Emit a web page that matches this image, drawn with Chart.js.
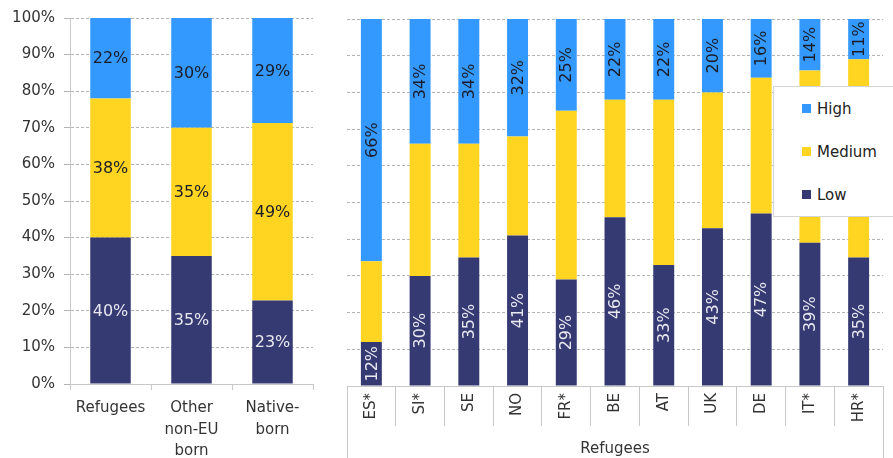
<!DOCTYPE html>
<html>
<head>
<meta charset="utf-8">
<script src="https://cdn.jsdelivr.net/npm/chart.js@4"></script>
<style>
  body { margin: 0; background: #fff; width: 893px; height: 458px; overflow: hidden; position: relative; font-family: "DejaVu Sans", sans-serif; }
  #leftWrap { position: absolute; left: 0; top: 0; width: 330px; height: 458px; }
  #rightWrap { position: absolute; left: 330px; top: 0; width: 563px; height: 458px; }
  #legend { position: absolute; left: 773px; top: 86px; width: 130px; height: 129px; background: #fff; border: 1px solid #d4d4d4; }
  .item { position: absolute; left: 28px; font-size: 15px; color: #222; line-height: 18px; }
  .sw { display: inline-block; width: 9px; height: 9px; margin-right: 6px; vertical-align: 1px; }
</style>
</head>
<body>
<div id="leftWrap"><canvas id="groupChart"></canvas></div>
<div id="rightWrap"><canvas id="countryChart"></canvas></div>
<div id="legend"></div>
<script>
// ── Data ───────────────────────────────────────────────────
const groupLabels = [["Refugees"], ["Other", "non-EU", "born"], ["Native-", "born"]];
const groupLow = [40, 35, 22.8];
const groupMedium = [38, 35, 48.5];
const groupHigh = [22, 30, 28.7];

const countries = ["ES*", "SI*", "SE", "NO", "FR*", "BE", "AT", "UK", "DE", "IT*", "HR*"];
const countryLow = [12, 30, 35, 41, 29, 46, 33, 43, 47, 39, 35];
const countryMedium = [22, 36, 31, 27, 46, 32, 45, 37, 37, 47, 54];
const countryHigh = [66, 34, 34, 32, 25, 22, 22, 20, 16, 14, 11];

const groupTitle = "Refugees";
const seriesNames = ["Low", "Medium", "High"];
const seriesColors = ["#363a73", "#ffd521", "#3399ff"];
const labelColors = ["#e8e8f0", "#1c1c28", "#1c1c28"];

const FONT = "'DejaVu Sans', sans-serif";
const GRID = "#c8c8c8";
const DASH_GRID = "#b4b4b4";
Chart.defaults.font.family = FONT;
Chart.defaults.color = "#333";

/* ── Segment labels ─────────────────────────────────────────*/
const segLabels = {
  id: "segLabels",
  afterDatasetsDraw(chart, args, opts) {
    const ctx = chart.ctx;
    ctx.save();
    ctx.font = `16px ${FONT}`;
    ctx.textAlign = "center";
    ctx.textBaseline = "middle";
    chart.data.datasets.forEach((ds, i) => {
      if (ds.hideLabels) return;
      chart.getDatasetMeta(i).data.forEach((bar, j) => {
        const { x, y, base } = bar.getProps(["x", "y", "base"], true);
        const cy = (y + base) / 2;
        const txt = Math.round(ds.data[j]) + "%";
        ctx.fillStyle = ds.labelColor;
        if (opts.rotate) {
          ctx.save();
          ctx.translate(x, cy);
          ctx.rotate(-Math.PI / 2);
          ctx.fillText(txt, 0, 1);
          ctx.restore();
        } else {
          ctx.fillText(txt, x, cy + 1);
        }
      });
    });
    ctx.restore();
  }
};

// outer lines of the category box under the right panel
const groupBox = {
  id: "groupBox",
  afterDraw(chart) {
    const { ctx, chartArea: a } = chart;
    ctx.save();
    ctx.strokeStyle = GRID;
    ctx.lineWidth = 1;
    [a.left, a.right].forEach(x => {
      const px = Math.round(x) + 0.5;
      ctx.beginPath();
      ctx.moveTo(px, a.bottom);
      ctx.lineTo(px, chart.height);
      ctx.stroke();
    });
    ctx.restore();
  }
};

function makeSets(low, medium, high, hideMedium) {
  return [low, medium, high].map((data, i) => ({
    label: seriesNames[i],
    data,
    backgroundColor: seriesColors[i],
    borderWidth: 0,
    labelColor: labelColors[i],
    hideLabels: hideMedium && i === 1
  }));
}

/* ── Left: groups ───────────────────────────────────────────*/
new Chart(document.getElementById("groupChart"), {
  type: "bar",
  data: { labels: groupLabels, datasets: makeSets(groupLow, groupMedium, groupHigh, false) },
  options: {
    responsive: true,
    maintainAspectRatio: false,
    animation: false,
    barPercentage: 0.5,
    categoryPercentage: 1,
    layout: { padding: { top: 13, right: 17, left: 0, bottom: 0 } },
    scales: {
      x: {
        stacked: true,
        grid: { offset: true, drawOnChartArea: false, tickLength: 6, color: GRID },
        border: { color: GRID },
        ticks: { font: { size: 15, lineHeight: 1.45 }, padding: 7, maxRotation: 0, color: "#333" },
        afterFit: s => { s.height = 74; }
      },
      y: {
        stacked: true,
        min: 0, max: 100,
        ticks: { stepSize: 10, callback: v => v + "%", font: { size: 15 }, padding: 9, color: "#333" },
        grid: { color: DASH_GRID, tickLength: 6 },
        border: { color: GRID, dash: [3, 2] },
        afterFit: s => { s.width = 70; }
      }
    },
    plugins: { legend: { display: false }, tooltip: { enabled: false }, segLabels: { rotate: false } }
  },
  plugins: [segLabels]
});

/* ── Right: countries ───────────────────────────────────────*/
new Chart(document.getElementById("countryChart"), {
  type: "bar",
  data: { labels: countries, datasets: makeSets(countryLow, countryMedium, countryHigh, true) },
  options: {
    responsive: true,
    maintainAspectRatio: false,
    animation: false,
    barPercentage: 0.43,
    categoryPercentage: 1,
    layout: { padding: { top: 19, right: 10, left: 17, bottom: 0 } },
    scales: {
      x: {
        stacked: true,
        grid: { offset: true, drawOnChartArea: false, tickLength: 40, color: GRID },
        border: { color: GRID },
        ticks: { font: { size: 15 }, padding: -33, minRotation: 90, maxRotation: 90, autoSkip: false, color: "#333" },
        title: { display: true, text: groupTitle, font: { size: 15 }, color: "#333", padding: 0 },
        afterFit: s => { s.height = 72; }
      },
      y: {
        stacked: true,
        min: 0, max: 100,
        ticks: { display: false, stepSize: 10 },
        grid: { color: DASH_GRID, drawTicks: false },
        border: { display: false, dash: [3, 2] },
        afterFit: s => { s.width = 0; }
      }
    },
    plugins: { legend: { display: false }, tooltip: { enabled: false }, segLabels: { rotate: true } }
  },
  plugins: [segLabels, groupBox]
});

/* ── Legend ─────────────────────────────────────────────────*/
const legendEl = document.getElementById("legend");
[2, 1, 0].forEach((s, k) => {
  const div = document.createElement("div");
  div.className = "item";
  div.style.top = (13 + k * 43) + "px";
  div.innerHTML = `<span class="sw" style="background:${seriesColors[s]}"></span>${seriesNames[s]}`;
  legendEl.appendChild(div);
});
</script>
</body>
</html>
